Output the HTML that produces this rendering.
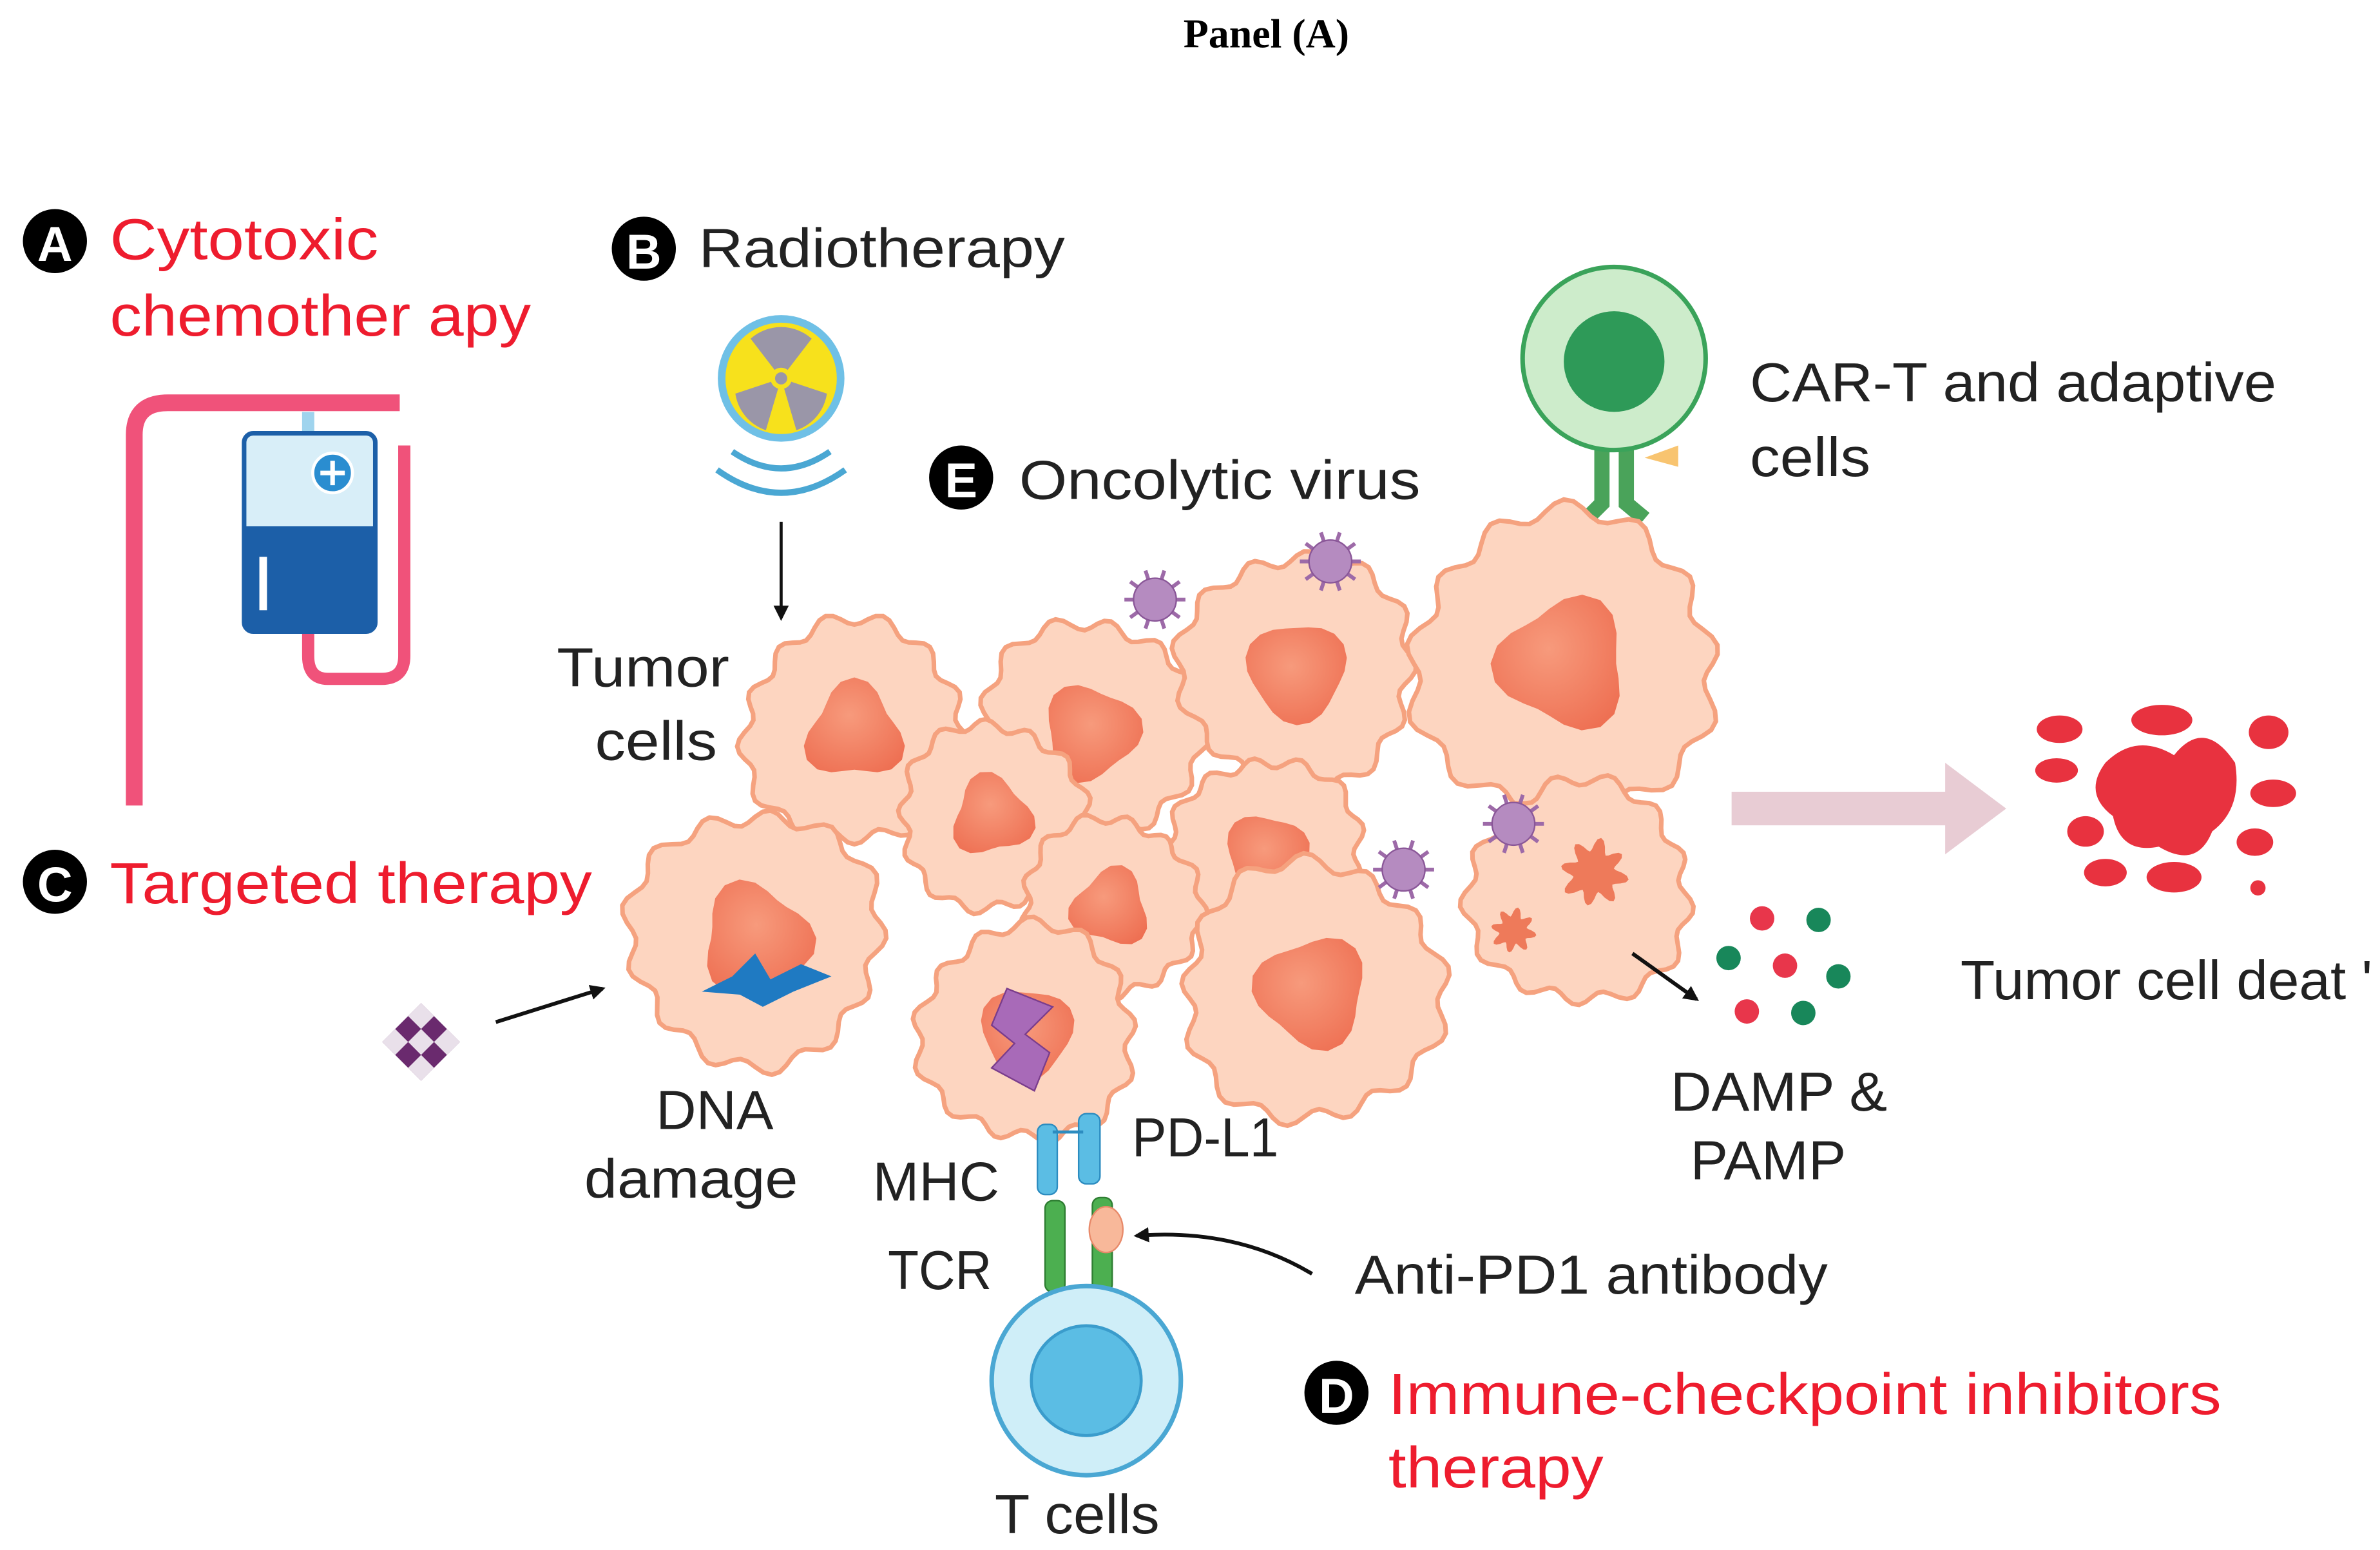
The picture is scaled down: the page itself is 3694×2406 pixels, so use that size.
<!DOCTYPE html>
<html><head><meta charset="utf-8"><style>
html,body{margin:0;padding:0;background:#fff;}
svg{display:block;}
text{font-family:"Liberation Sans",sans-serif;}
</style></head><body>
<svg id="s" width="3694" height="2406" viewBox="0 0 1560 1016" xmlns="http://www.w3.org/2000/svg">
<defs>
<marker id="ah" markerWidth="10" markerHeight="10" refX="8" refY="5" orient="auto" markerUnits="userSpaceOnUse"><path d="M0,0 L10,5 L0,10 Z" fill="#111"/></marker>
<radialGradient id="nuc" cx="0.45" cy="0.4" r="0.7"><stop offset="0" stop-color="#f79a7c"/><stop offset="1" stop-color="#ee6f52"/></radialGradient>
</defs>
<text x="830" y="31" text-anchor="middle" font-weight="bold" font-size="27" style="font-family:'Liberation Serif',serif">Panel (A)</text>

<!-- A -->
<circle cx="36" cy="158" r="21" fill="#000"/><text x="36" y="171" text-anchor="middle" fill="#fff" font-size="32" font-weight="bold">A</text>
<text x="72" y="170" fill="#ee1c2e" font-size="38" textLength="176" lengthAdjust="spacingAndGlyphs">Cytotoxic</text>
<text x="72" y="220" fill="#ee1c2e" font-size="38" textLength="276" lengthAdjust="spacingAndGlyphs">chemother apy</text>
<path d="M88,528 L88,285 Q88,264 110,264 L262,264" fill="none" stroke="#f0527a" stroke-width="11"/>
<path d="M265,292 L265,430 Q265,445 250,445 L215,445 Q202,445 202,430 L202,405" fill="none" stroke="#f0527a" stroke-width="8"/>
<rect x="198" y="270" width="8" height="16" fill="#9fd4ee"/>
<rect x="160" y="284" width="86" height="130" rx="6" fill="#d8eef8" stroke="#1c5fa8" stroke-width="3"/>
<path d="M161,345 L245,345 L245,408 Q245,413 240,413 L166,413 Q161,413 161,408 Z" fill="#1c5fa8"/>
<rect x="170" y="365" width="5" height="35" fill="#fff"/>
<circle cx="218" cy="310" r="13" fill="#2a8dd0" stroke="#fff" stroke-width="2"/>
<path d="M218,302 V318 M210,310 H226" stroke="#fff" stroke-width="3"/>

<!-- B -->
<circle cx="422" cy="163" r="21" fill="#000"/><text x="422" y="176" text-anchor="middle" fill="#fff" font-size="32" font-weight="bold">B</text>
<text x="458" y="175" fill="#222" font-size="36" textLength="240" lengthAdjust="spacingAndGlyphs">Radiotherapy</text>
<circle cx="512" cy="248" r="39" fill="#f7e11c" stroke="#6fc0e6" stroke-width="5"/>
<g fill="#9a96a8"><path d="M512,248 L492,222 A30,30 0 0 1 532,222 Z"/><path d="M512,248 L542,258 A30,30 0 0 1 522,282 Z"/><path d="M512,248 L502,282 A30,30 0 0 1 482,258 Z"/></g>
<circle cx="512" cy="248" r="7" fill="#f7e11c"/><circle cx="512" cy="248" r="4" fill="#9a96a8"/>
<path d="M480,296 Q512,318 544,296 M470,308 Q512,338 554,308" fill="none" stroke="#4aa7d3" stroke-width="4"/>
<line x1="512" y1="342" x2="512" y2="405" stroke="#111" stroke-width="2" marker-end="url(#ah)"/>

<!-- E -->
<circle cx="630" cy="313" r="21" fill="#000"/><text x="630" y="326" text-anchor="middle" fill="#fff" font-size="32" font-weight="bold">E</text>
<text x="668" y="327" fill="#222" font-size="36" textLength="263" lengthAdjust="spacingAndGlyphs">Oncolytic virus</text>

<!-- CAR-T -->
<path d="M1050,290 L1050,330 L1040,340 M1066,290 L1066,330 L1078,340" stroke="#4aa35a" stroke-width="10" fill="none"/>
<path d="M1078,300 L1100,292 L1100,306 Z" fill="#f8c470"/>
<circle cx="1058" cy="235" r="60" fill="#cdeccb" stroke="#3aa35a" stroke-width="3"/>
<circle cx="1058" cy="237" r="33" fill="#2e9a58"/>
<text x="1147" y="263" fill="#222" font-size="36" textLength="345" lengthAdjust="spacingAndGlyphs">CAR-T and adaptive</text>
<text x="1147" y="312" fill="#222" font-size="36" textLength="79" lengthAdjust="spacingAndGlyphs">cells</text>

<g id="cells"></g>
<g id="viruses"></g>

<text x="365" y="450" fill="#222" font-size="36" textLength="113" lengthAdjust="spacingAndGlyphs">Tumor</text>
<text x="390" y="498" fill="#222" font-size="36" textLength="80" lengthAdjust="spacingAndGlyphs">cells</text>

<!-- big arrow -->
<path d="M1135,519 L1275,519 L1275,500 L1315,530 L1275,560 L1275,541 L1135,541 Z" fill="#e8ccd4"/>
<!-- dead cell -->
<g fill="#e8323f">
<path d="M1380,500 Q1400,480 1425,495 Q1445,470 1465,500 Q1470,530 1450,545 Q1440,570 1415,555 Q1390,560 1385,535 Q1365,520 1380,500 Z"/>
<ellipse cx="1350" cy="478" rx="15" ry="9"/><ellipse cx="1417" cy="472" rx="20" ry="10"/><ellipse cx="1487" cy="480" rx="13" ry="11"/>
<ellipse cx="1348" cy="505" rx="14" ry="8"/><ellipse cx="1490" cy="520" rx="15" ry="9"/><ellipse cx="1367" cy="545" rx="12" ry="10"/>
<ellipse cx="1478" cy="552" rx="12" ry="9"/><ellipse cx="1380" cy="572" rx="14" ry="9"/><ellipse cx="1425" cy="575" rx="18" ry="10"/><circle cx="1480" cy="582" r="5"/>
</g>
<text x="1285" y="655" fill="#222" font-size="36" textLength="270" lengthAdjust="spacingAndGlyphs">Tumor cell deat '</text>

<!-- DAMP -->
<line x1="1070" y1="625" x2="1112" y2="655" stroke="#111" stroke-width="2.5" marker-end="url(#ah)"/>
<g><circle cx="1155" cy="602" r="8" fill="#e8364b"/><circle cx="1192" cy="603" r="8" fill="#18875a"/><circle cx="1133" cy="628" r="8" fill="#18875a"/><circle cx="1170" cy="633" r="8" fill="#e8364b"/><circle cx="1205" cy="640" r="8" fill="#18875a"/><circle cx="1145" cy="663" r="8" fill="#e8364b"/><circle cx="1182" cy="664" r="8" fill="#18875a"/></g>
<text x="1095" y="728" fill="#222" font-size="36" textLength="142" lengthAdjust="spacingAndGlyphs">DAMP &amp;</text>
<text x="1108" y="773" fill="#222" font-size="36" textLength="102" lengthAdjust="spacingAndGlyphs">PAMP</text>

<!-- C -->
<circle cx="36" cy="578" r="21" fill="#000"/><text x="36" y="591" text-anchor="middle" fill="#fff" font-size="32" font-weight="bold">C</text>
<text x="72" y="592" fill="#ee1c2e" font-size="38" textLength="316" lengthAdjust="spacingAndGlyphs">Targeted therapy</text>
<g transform="translate(276,683) rotate(45)">
<rect x="-18" y="-18" width="36" height="36" fill="#6a2a6e"/>
<g fill="#e9e0ea"><rect x="-18" y="-18" width="12" height="12"/><rect x="6" y="-18" width="12" height="12"/><rect x="-6" y="-6" width="12" height="12"/><rect x="-18" y="6" width="12" height="12"/><rect x="6" y="6" width="12" height="12"/></g>
</g>
<line x1="325" y1="670" x2="395" y2="648" stroke="#111" stroke-width="2.5" marker-end="url(#ah)"/>
<text x="430" y="740" fill="#222" font-size="36" textLength="77" lengthAdjust="spacingAndGlyphs">DNA</text>
<text x="383" y="785" fill="#222" font-size="36" textLength="140" lengthAdjust="spacingAndGlyphs">damage</text>

<!-- receptors -->
<rect x="680" y="737" width="13" height="46" rx="5" fill="#5bbde4" stroke="#2c8cc0"/>
<rect x="707" y="730" width="14" height="46" rx="5" fill="#5bbde4" stroke="#2c8cc0"/>
<line x1="690" y1="742" x2="710" y2="742" stroke="#2c8cc0" stroke-width="2"/>
<rect x="685" y="787" width="13" height="60" rx="5" fill="#4caf50" stroke="#2e7d32"/>
<rect x="716" y="785" width="13" height="62" rx="5" fill="#4caf50" stroke="#2e7d32"/>
<ellipse cx="725" cy="806" rx="11" ry="15" fill="#f8b89a" stroke="#e88a6a"/>
<text x="572" y="787" fill="#222" font-size="36" textLength="83" lengthAdjust="spacingAndGlyphs">MHC</text>
<text x="582" y="845" fill="#222" font-size="36" textLength="68" lengthAdjust="spacingAndGlyphs">TCR</text>
<text x="742" y="758" fill="#222" font-size="36" textLength="96" lengthAdjust="spacingAndGlyphs">PD-L1</text>
<circle cx="712" cy="905" r="62" fill="#cfeef8" stroke="#4aa7d3" stroke-width="3"/>
<circle cx="712" cy="905" r="36" fill="#5bbde4" stroke="#3a9ccc" stroke-width="2"/>
<text x="652" y="1005" fill="#222" font-size="36" textLength="108" lengthAdjust="spacingAndGlyphs">T cells</text>
<path d="M860,835 Q810,805 745,810" fill="none" stroke="#111" stroke-width="2.5" marker-end="url(#ah)"/>
<text x="888" y="848" fill="#222" font-size="36" textLength="310" lengthAdjust="spacingAndGlyphs">Anti-PD1 antibody</text>

<!-- D -->
<circle cx="876" cy="913" r="21" fill="#000"/><text x="876" y="926" text-anchor="middle" fill="#fff" font-size="32" font-weight="bold">D</text>
<text x="910" y="927" fill="#ee1c2e" font-size="38" textLength="546" lengthAdjust="spacingAndGlyphs">Immune-checkpoint inhibitors</text>
<text x="910" y="975" fill="#ee1c2e" font-size="38" textLength="141" lengthAdjust="spacingAndGlyphs">therapy</text>

<script>
(function(){
var ns="http://www.w3.org/2000/svg";
var g=document.getElementById("cells");
var cells=[[560,480,72],[715,480,72],[850,440,76],[1025,435,98],[650,535,60],[830,560,62],[1035,585,72],[728,595,58],[495,615,82],[673,677,70],[860,650,84]];
function blob(cx,cy,r,n,amp,seed){var d="";var N=n*8;for(var i=0;i<=N;i++){var a=i/N*Math.PI*2;var rr=r*(1+amp*Math.sin(a*n+seed)+0.04*Math.sin(a*3+seed*2));var x=cx+rr*Math.cos(a),y=cy+rr*Math.sin(a);d+=(i?"L":"M")+x.toFixed(1)+","+y.toFixed(1);}return d+"Z";}
cells.forEach(function(c,i){
var p=document.createElementNS(ns,"path");p.setAttribute("d",blob(c[0],c[1],c[2],13,0.06,i));p.setAttribute("fill","#fdd5c0");p.setAttribute("stroke","#f5a27f");p.setAttribute("stroke-width","3");g.appendChild(p);
if(i==6){[[1045,572,18],[992,610,12]].forEach(function(s){var q=document.createElementNS(ns,"path");q.setAttribute("d",blob(s[0],s[1],s[2],8,0.25,0));q.setAttribute("fill","#ee7a5a");g.appendChild(q);});return;}
var n=document.createElementNS(ns,"path");n.setAttribute("d",blob(c[0],c[1],c[2]*0.42,3,0.15,i*1.7));n.setAttribute("fill","url(#nuc)");g.appendChild(n);
});
var dn=document.createElementNS(ns,"path");dn.setAttribute("d","M460,650 L480,640 L495,625 L505,642 L525,632 L545,640 L520,650 L500,660 L485,652 Z");dn.setAttribute("fill","#1f7ac2");g.appendChild(dn);
var lb=document.createElementNS(ns,"path");lb.setAttribute("d","M660,648 L690,660 L672,678 L688,690 L678,715 L650,700 L665,684 L650,672 Z");lb.setAttribute("fill","#a86ab8");lb.setAttribute("stroke","#7a3d8c");g.appendChild(lb);
var v=document.getElementById("viruses");
[[757,393],[872,368],[920,570],[992,540]].forEach(function(c){
for(var k=0;k<10;k++){var a=k/10*Math.PI*2;var l=document.createElementNS(ns,"line");l.setAttribute("x1",c[0]);l.setAttribute("y1",c[1]);l.setAttribute("x2",c[0]+20*Math.cos(a));l.setAttribute("y2",c[1]+20*Math.sin(a));l.setAttribute("stroke","#9d6aa8");l.setAttribute("stroke-width","2.5");v.appendChild(l);}
var ci=document.createElementNS(ns,"circle");ci.setAttribute("cx",c[0]);ci.setAttribute("cy",c[1]);ci.setAttribute("r",14);ci.setAttribute("fill","#b58bc0");ci.setAttribute("stroke","#8a5798");v.appendChild(ci);
});
})();
</script>
</svg>
</body></html>
